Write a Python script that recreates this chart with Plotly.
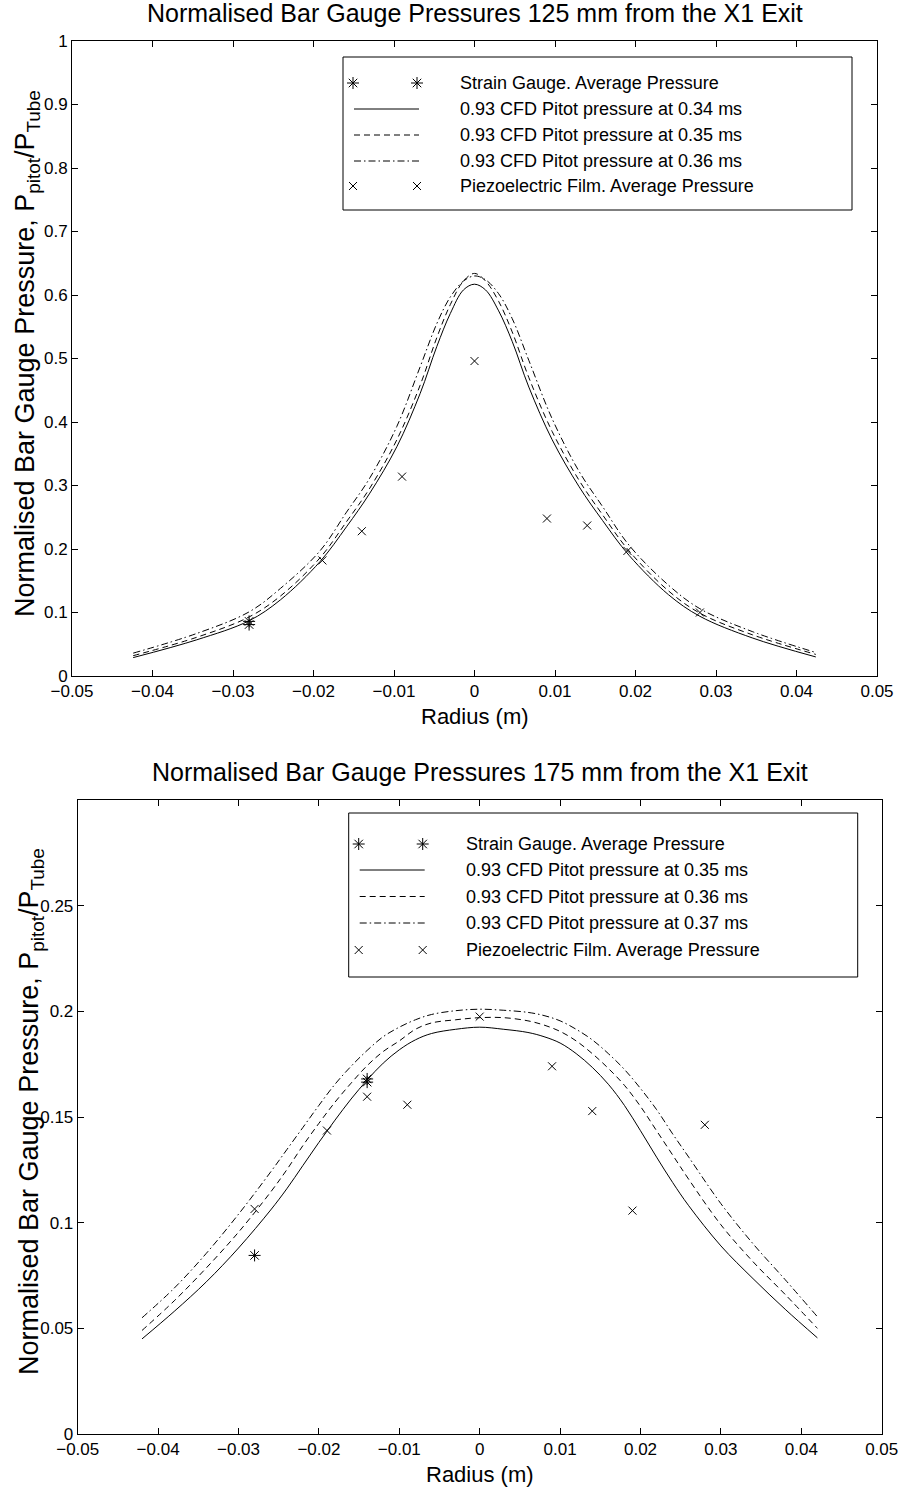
import plotly.graph_objects as go

# ---------------- DATA ----------------
# Top panel: 125 mm from the X1 exit
top_r = [-0.0424, -0.0345, -0.028, -0.0241, -0.0192, -0.0159, -0.0130, -0.00965, -0.00675, -0.00468,
         -0.0030, -0.00137, 0.0,
         0.00137, 0.0030, 0.00468, 0.00675, 0.00965, 0.0130, 0.0159, 0.0192, 0.0241, 0.028, 0.0345, 0.0424]
top_cfd_034 = [0.029, 0.057, 0.087, 0.120, 0.180, 0.235, 0.288, 0.361, 0.445, 0.519,
               0.571, 0.608, 0.617,
               0.608, 0.575, 0.527, 0.455, 0.372, 0.298, 0.245, 0.190, 0.128, 0.094, 0.060, 0.030]
top_cfd_035 = [0.032, 0.061, 0.093, 0.126, 0.186, 0.243, 0.296, 0.372, 0.458, 0.533,
               0.585, 0.622, 0.634,
               0.622, 0.590, 0.542, 0.470, 0.385, 0.308, 0.254, 0.197, 0.134, 0.099, 0.065, 0.034]
top_cfd_036 = [0.036, 0.067, 0.101, 0.138, 0.197, 0.258, 0.312, 0.393, 0.487, 0.555,
               0.597, 0.622, 0.630,
               0.624, 0.602, 0.563, 0.497, 0.405, 0.322, 0.267, 0.206, 0.143, 0.106, 0.070, 0.037]
top_strain_r = [-0.028, -0.028]
top_strain_p = [0.081, 0.086]
top_piezo_r = [-0.0189, -0.014, -0.009, 0.0, 0.009, 0.014, 0.019, 0.028]
top_piezo_p = [0.182, 0.228, 0.314, 0.496, 0.248, 0.237, 0.197, 0.100]

# Bottom panel: 175 mm from the X1 exit
bot_r = [-0.042, -0.038, -0.034, -0.030, -0.026, -0.024, -0.022, -0.020, -0.018, -0.016, -0.014,
         -0.012, -0.010, -0.008, -0.006, -0.003, 0.0,
         0.003, 0.006, 0.008, 0.010, 0.012, 0.014, 0.016, 0.018, 0.020, 0.022, 0.024, 0.026,
         0.030, 0.034, 0.038, 0.042]
bot_cfd_035 = [0.045, 0.058, 0.072, 0.088, 0.106, 0.116, 0.127, 0.138, 0.1485, 0.1585, 0.1675,
               0.1755, 0.1818, 0.1865, 0.1895, 0.1915, 0.1925,
               0.1915, 0.190, 0.188, 0.185, 0.180, 0.1735, 0.1655, 0.1555, 0.1435, 0.131, 0.119, 0.108,
               0.089, 0.0735, 0.059, 0.0455]
bot_cfd_036 = [0.049, 0.063, 0.0786, 0.0955, 0.1145, 0.125, 0.1364, 0.147, 0.157, 0.166, 0.1743,
               0.181, 0.186, 0.1915, 0.1945, 0.196, 0.197,
               0.197, 0.1955, 0.1935, 0.1905, 0.186, 0.180, 0.173, 0.165, 0.155, 0.1435, 0.132, 0.1205,
               0.099, 0.0815, 0.066, 0.050]
bot_cfd_037 = [0.055, 0.069, 0.0855, 0.104, 0.124, 0.1345, 0.145, 0.1555, 0.1655, 0.174, 0.1815,
               0.188, 0.1925, 0.196, 0.1985, 0.2003, 0.201,
               0.2005, 0.1995, 0.198, 0.1955, 0.1915, 0.1865, 0.180, 0.1725, 0.1635, 0.1535, 0.142, 0.131,
               0.109, 0.090, 0.073, 0.0555]
bot_strain_r = [-0.028, -0.014, -0.014]
bot_strain_p = [0.0845, 0.1665, 0.1680]
bot_piezo_r = [-0.028, -0.019, -0.014, -0.009, 0.0, 0.009, 0.014, 0.019, 0.028]
bot_piezo_p = [0.1065, 0.1436, 0.1596, 0.1558, 0.1975, 0.174, 0.1528, 0.1057, 0.1463]

x_ticks = [-0.05, -0.04, -0.03, -0.02, -0.01, 0.0, 0.01, 0.02, 0.03, 0.04, 0.05]
x_ticktext = ["\u22120.05", "\u22120.04", "\u22120.03", "\u22120.02", "\u22120.01", "0",
              "0.01", "0.02", "0.03", "0.04", "0.05"]
top_y_ticks = [0, 0.1, 0.2, 0.3, 0.4, 0.5, 0.6, 0.7, 0.8, 0.9, 1.0]
top_y_ticktext = ["0", "0.1", "0.2", "0.3", "0.4", "0.5", "0.6", "0.7", "0.8", "0.9", "1"]
bot_y_ticks = [0, 0.05, 0.1, 0.15, 0.2, 0.25]
bot_y_ticktext = ["0", "0.05", "0.1", "0.15", "0.2", "0.25"]

top_title = "Normalised Bar Gauge Pressures 125 mm from the X1 Exit"
bot_title = "Normalised Bar Gauge Pressures 175 mm from the X1 Exit"
x_label = "Radius (m)"
y_label = "Normalised Bar Gauge Pressure, P<sub>pitot</sub>/P<sub>Tube</sub>"
top_legend = ["Strain Gauge. Average Pressure",
              "0.93 CFD Pitot pressure at 0.34 ms",
              "0.93 CFD Pitot pressure at 0.35 ms",
              "0.93 CFD Pitot pressure at 0.36 ms",
              "Piezoelectric Film. Average Pressure"]
bot_legend = ["Strain Gauge. Average Pressure",
              "0.93 CFD Pitot pressure at 0.35 ms",
              "0.93 CFD Pitot pressure at 0.36 ms",
              "0.93 CFD Pitot pressure at 0.37 ms",
              "Piezoelectric Film. Average Pressure"]

# ---------------- STYLE ----------------
W, H = 899, 1491
FONT = "Liberation Sans, Arial, Helvetica, sans-serif"
BLACK = "black"
LW = 1
DASH = "6px,4px"
DASHDOT = "7px,3px,1.5px,3px"

# pixel geometry of the two axes boxes
top_box = dict(l=72, r=877, t=41, b=676)
bot_box = dict(l=77.7, r=881.7, t=800, b=1434)


def xdom(b):
    return [b["l"] / W, b["r"] / W]


def ydom(b):
    return [1 - b["b"] / H, 1 - b["t"] / H]


fig = go.Figure()

styles = [("markers", "asterisk-open", 10, None),
          ("lines", None, None, "solid"),
          ("lines", None, None, DASH),
          ("lines", None, None, DASHDOT),
          ("markers", "x-thin-open", 8, None)]


def add_panel(xa, ya, r_cfd, curves, s_r, s_p, p_r, p_p):
    for yv, dash in zip(curves, ["solid", DASH, DASHDOT]):
        fig.add_trace(go.Scatter(x=r_cfd, y=yv, mode="lines", xaxis=xa, yaxis=ya,
                                 line=dict(color=BLACK, width=LW, dash=dash, shape="spline", smoothing=1.0),
                                 showlegend=False, hoverinfo="skip"))
    fig.add_trace(go.Scatter(x=s_r, y=s_p, mode="markers", xaxis=xa, yaxis=ya,
                             marker=dict(symbol="asterisk-open", size=10, color=BLACK,
                                         line=dict(color=BLACK, width=1)),
                             showlegend=False))
    fig.add_trace(go.Scatter(x=p_r, y=p_p, mode="markers", xaxis=xa, yaxis=ya,
                             marker=dict(symbol="x-thin-open", size=8, color=BLACK,
                                         line=dict(color=BLACK, width=1)),
                             showlegend=False))


add_panel("x", "y", top_r, [top_cfd_034, top_cfd_035, top_cfd_036],
          top_strain_r, top_strain_p, top_piezo_r, top_piezo_p)
add_panel("x2", "y2", bot_r, [bot_cfd_035, bot_cfd_036, bot_cfd_037],
          bot_strain_r, bot_strain_p, bot_piezo_r, bot_piezo_p)


# ---------------- MATLAB-style legends on overlay pixel axes ----------------
def add_legend(xa, ya, labels, rows, box):
    fig.add_shape(type="rect", xref=xa, yref=ya, x0=box[0], x1=box[1], y0=box[2], y1=box[3],
                  line=dict(color=BLACK, width=1), fillcolor="rgba(0,0,0,0)", layer="above")
    for lab, row, (mode, sym, size, dash) in zip(labels, rows, styles):
        if mode == "markers":
            fig.add_trace(go.Scatter(x=[box[0] + 10, box[0] + 74], y=[row, row], mode="markers",
                                     xaxis=xa, yaxis=ya, showlegend=False, hoverinfo="skip",
                                     marker=dict(symbol=sym, size=size, color=BLACK,
                                                 line=dict(color=BLACK, width=1))))
        else:
            fig.add_trace(go.Scatter(x=[box[0] + 11, box[0] + 76], y=[row, row], mode="lines",
                                     xaxis=xa, yaxis=ya, showlegend=False, hoverinfo="skip",
                                     line=dict(color=BLACK, width=LW, dash=dash)))
        fig.add_annotation(xref=xa, yref=ya, x=box[0] + 115, y=row, text=lab, showarrow=False,
                           xanchor="left", yanchor="middle",
                           font=dict(family=FONT, size=18, color=BLACK))


add_legend("x3", "y3", top_legend, [42, 68, 94, 120, 145], [271, 780, 16, 169])
add_legend("x4", "y4", bot_legend, [44, 70, 96.5, 123, 150], [271, 780, 13, 177])

# ---------------- axes ----------------
axis_common = dict(showline=True, linecolor=BLACK, linewidth=1, mirror="ticks",
                   ticks="inside", ticklen=6, tickcolor=BLACK, tickwidth=1,
                   showgrid=False, zeroline=False, automargin=False,
                   tickfont=dict(family=FONT, size=17, color=BLACK))
hidden = dict(visible=False, automargin=False, showgrid=False, zeroline=False)

fig.update_layout(
    template="none",
    width=W, height=H, margin=dict(l=0, r=0, t=0, b=0, pad=0),
    paper_bgcolor="white", plot_bgcolor="white", showlegend=False,
    xaxis=dict(domain=xdom(top_box), anchor="y", range=[-0.05, 0.05],
               tickvals=x_ticks, ticktext=x_ticktext, **axis_common),
    yaxis=dict(domain=ydom(top_box), anchor="x", range=[0, 1],
               tickvals=top_y_ticks, ticktext=top_y_ticktext, **axis_common),
    xaxis2=dict(domain=xdom(bot_box), anchor="y2", range=[-0.05, 0.05],
                tickvals=x_ticks, ticktext=x_ticktext, **axis_common),
    yaxis2=dict(domain=ydom(bot_box), anchor="x2", range=[0, 0.3],
                tickvals=bot_y_ticks, ticktext=bot_y_ticktext, **axis_common),
    xaxis3=dict(overlaying="x", anchor="y3", range=[0, top_box["r"] - top_box["l"]], **hidden),
    yaxis3=dict(overlaying="y", anchor="x3", range=[top_box["b"] - top_box["t"], 0], **hidden),
    xaxis4=dict(overlaying="x2", anchor="y4", range=[0, bot_box["r"] - bot_box["l"]], **hidden),
    yaxis4=dict(overlaying="y2", anchor="x4", range=[bot_box["b"] - bot_box["t"], 0], **hidden),
)


def ann(text, x_px, y_px, size, angle=0):
    fig.add_annotation(xref="paper", yref="paper", x=x_px / W, y=1 - y_px / H, text=text,
                       showarrow=False, xanchor="center", yanchor="middle", textangle=angle,
                       font=dict(family=FONT, size=size, color=BLACK))


ann(top_title, (top_box["l"] + top_box["r"]) / 2, 13, 25)
ann(bot_title, (bot_box["l"] + bot_box["r"]) / 2, 772, 25)
ann(x_label, (top_box["l"] + top_box["r"]) / 2, 716, 22)
ann(x_label, (bot_box["l"] + bot_box["r"]) / 2, 1474, 22)
ann(y_label, 27, 354, 27, -90)
ann(y_label, 31, 1112, 27, -90)

fig.write_html("out.html",
               config={"displayModeBar": False, "staticPlot": True},
               post_script="document.body.style.margin='0';document.body.style.padding='0';"
                           "document.documentElement.style.overflow='hidden';")
